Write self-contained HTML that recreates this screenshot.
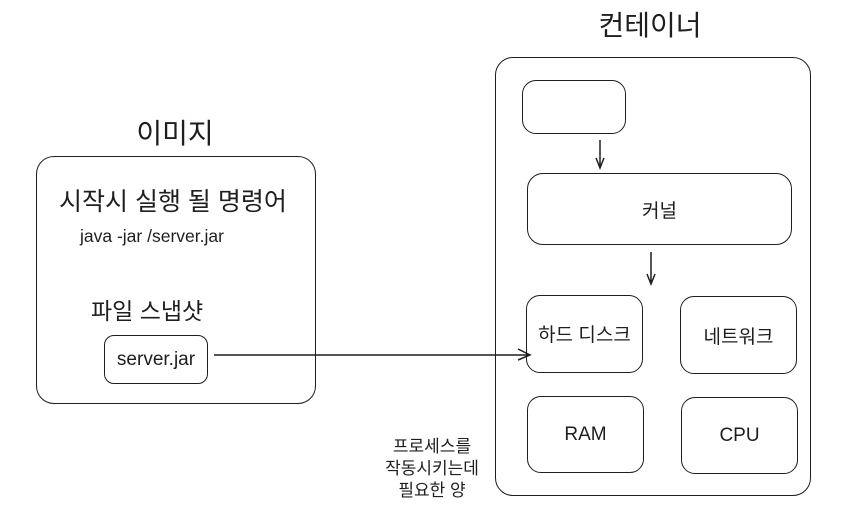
<!DOCTYPE html>
<html><head><meta charset="utf-8"><style>
body{margin:0;width:850px;height:530px;background:#fff;overflow:hidden;position:relative;font-family:"Liberation Sans","Noto Sans CJK KR",sans-serif;color:#1e1e1e}
.b{position:absolute;border:1.5px solid #1e1e1e;border-radius:14px;box-sizing:border-box;display:flex;align-items:center;justify-content:center;font-size:19px}
.t{position:absolute;white-space:nowrap}
</style></head><body>
<div class="t" style="left:575px;width:150px;top:4px;text-align:center;font-size:28px">컨테이너</div>
<div class="t" style="left:100px;width:150px;top:112px;text-align:center;font-size:28px">이미지</div>
<div class="b" style="left:36px;top:156px;width:280px;height:248px;border-radius:18px"></div>
<div class="t" style="left:59px;top:182px;font-size:25px">시작시 실행 될 명령어</div>
<div class="t" style="left:80px;top:226px;font-size:17.5px">java -jar /server.jar</div>
<div class="t" style="left:91px;top:292px;font-size:23px">파일 스냅샷</div>
<div class="b" style="left:104px;top:335px;width:104px;height:49px;border-radius:10px">server.jar</div>
<div class="b" style="left:495px;top:57px;width:316px;height:439px;border-radius:18px"></div>
<div class="b" style="left:522px;top:80px;width:104px;height:54px"></div>
<div class="b" style="left:527px;top:173px;width:265px;height:72px;border-radius:16px">커널</div>
<div class="b" style="left:526px;top:295px;width:117px;height:78px;align-items:flex-start;padding-top:24px">하드 디스크</div>
<div class="b" style="left:680px;top:296px;width:117px;height:78px">네트워크</div>
<div class="b" style="left:527px;top:396px;width:117px;height:77px">RAM</div>
<div class="b" style="left:681px;top:397px;width:117px;height:77px">CPU</div>
<div class="t" style="left:352px;width:160px;top:436px;text-align:center;font-size:17px;line-height:22px">프로세스를<br>작동시키는데<br>필요한 양</div>
<svg width="850" height="530" style="position:absolute;left:0;top:0" fill="none" stroke="#1e1e1e" stroke-width="1.5">
<path d="M214 355 L530 355 M518 349 L530 355 L518 360"/>
<path d="M600 140 L600 168 M596 158 L600 168 L604 158"/>
<path d="M651 252 L651 284 M647 274 L651 284 L655 274"/>
</svg>
</body></html>
